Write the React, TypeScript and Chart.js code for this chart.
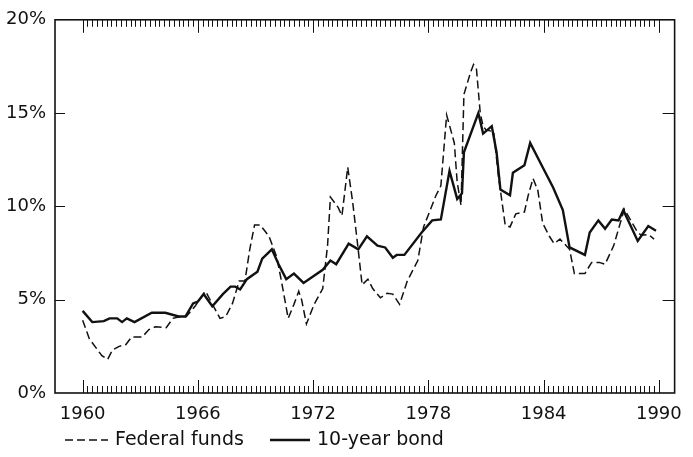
import React, { useEffect, useRef } from "react";
import { Chart, registerables } from "chart.js";

Chart.register(...registerables);

// Federal funds rate (dashed), percent
const fedYears = [
  1960.0, 1960.35, 1961.0, 1961.3, 1961.55, 1961.9, 1962.25, 1962.55, 1963.1, 1963.45,
  1963.8, 1964.35, 1964.7, 1965.1, 1965.4, 1965.85, 1966.4, 1967.15, 1967.45, 1967.8,
  1968.15, 1968.45, 1968.7, 1968.95, 1969.25, 1969.7, 1970.1, 1970.35, 1970.7, 1971.0,
  1971.25, 1971.4, 1971.65, 1972.05, 1972.5, 1972.75, 1972.9, 1973.3, 1973.5, 1973.8,
  1974.05, 1974.3, 1974.55, 1974.85, 1975.1, 1975.5, 1975.85, 1976.15, 1976.5, 1976.9,
  1977.45, 1977.75, 1978.4, 1978.65, 1978.95, 1979.35, 1979.5, 1979.7, 1979.85, 1980.2,
  1980.35, 1980.5, 1980.7, 1980.85, 1981.0, 1981.4, 1981.65, 1982.0, 1982.25, 1982.55,
  1983.0, 1983.2, 1983.45, 1983.7, 1983.95, 1984.3, 1984.55, 1984.85, 1985.35, 1985.6,
  1986.15, 1986.5, 1986.9, 1987.2, 1987.65, 1988.2, 1988.9, 1989.1, 1989.45, 1989.75,
];
const fedRates = [
  3.9, 2.9, 2.0, 1.8, 2.3, 2.5, 2.6, 3.0, 3.0, 3.4,
  3.55, 3.5, 4.0, 4.1, 4.1, 4.65, 5.45, 4.0, 4.1, 4.8,
  6.0, 6.0, 7.7, 9.0, 9.0, 8.4, 7.3, 6.0, 4.0, 4.75,
  5.45, 5.0, 3.7, 4.75, 5.6, 7.9, 10.5, 9.95, 9.5, 12.1,
  10.3, 8.1, 5.8, 6.1, 5.6, 5.1, 5.35, 5.3, 4.75, 6.0,
  7.1, 8.9, 10.6, 11.1, 14.9, 13.4, 11.3, 10.05, 16.0, 17.2,
  17.6, 17.4, 15.0, 14.3, 14.1, 14.0, 11.6, 9.0, 8.9, 9.6,
  9.7, 10.6, 11.5, 10.85, 9.1, 8.4, 8.0, 8.25, 7.7, 6.4,
  6.4, 7.0, 7.0, 6.9, 7.9, 9.85, 8.6, 8.45, 8.5, 8.25,
];

// 10-year bond yield (solid), percent
const bondYears = [
  1960.0, 1960.5, 1961.1, 1961.4, 1961.8, 1962.05, 1962.3, 1962.7, 1963.6, 1964.3,
  1965.0, 1965.35, 1965.75, 1966.0, 1966.3, 1966.75, 1967.3, 1967.7, 1967.95, 1968.2,
  1968.55, 1969.1, 1969.35, 1969.85, 1970.2, 1970.6, 1971.0, 1971.5, 1972.5, 1972.9,
  1973.2, 1973.85, 1974.35, 1974.8, 1975.35, 1975.75, 1976.15, 1976.35, 1976.75, 1977.65,
  1978.2, 1978.65, 1979.1, 1979.5, 1979.75, 1979.85, 1980.6, 1980.85, 1981.3, 1981.55,
  1981.75, 1982.25, 1982.4, 1983.0, 1983.3, 1983.95, 1984.5, 1985.0, 1985.35, 1986.15,
  1986.4, 1986.85, 1987.2, 1987.55, 1987.9, 1988.15, 1988.9, 1989.45, 1989.85,
];
const bondYields = [
  4.4, 3.8, 3.85, 4.0, 4.0, 3.8, 4.0, 3.8, 4.3, 4.3,
  4.1, 4.1, 4.8, 4.9, 5.3, 4.65, 5.3, 5.7, 5.7, 5.55,
  6.1, 6.5, 7.2, 7.7, 6.9, 6.1, 6.4, 5.9, 6.6, 7.1,
  6.9, 8.0, 7.7, 8.4, 7.9, 7.8, 7.25, 7.4, 7.4, 8.6,
  9.25, 9.3, 11.9, 10.4, 10.7, 12.9, 15.0, 13.9, 14.3, 12.9,
  10.9, 10.6, 11.8, 12.2, 13.4, 12.1, 11.0, 9.8, 7.8, 7.4,
  8.6, 9.25, 8.8, 9.3, 9.25, 9.8, 8.15, 8.95, 8.7,
];

const xLabelYears = [1960, 1966, 1972, 1978, 1984, 1990];
const yTickValues = [0, 5, 10, 15, 20];
const legendLabels = ["Federal funds", "10-year bond"];

const FONT = "'DejaVu Sans', sans-serif";

const framePlugin = {
  id: "frame",
  afterDraw(chart: any) {
    const { ctx, chartArea, scales } = chart;
    const { left, right, top, bottom } = chartArea;
    const xs = scales.x;
    const ys = scales.y;
    ctx.save();
    ctx.strokeStyle = "#111";
    ctx.lineWidth = 1.6;
    ctx.setLineDash([]);
    ctx.strokeRect(left, top, right - left, bottom - top);
    // inward quarterly ticks on top and bottom
    ctx.lineWidth = 1;
    for (let q = 0; q <= 30 * 4; q++) {
      const t = 1960 + q / 4;
      const px = Math.round(xs.getPixelForValue(t)) + 0.5;
      let len = 7;
      if (q % 24 === 0) len = 13;
      ctx.beginPath();
      ctx.moveTo(px, bottom);
      ctx.lineTo(px, bottom - len);
      ctx.moveTo(px, top);
      ctx.lineTo(px, top + len);
      ctx.stroke();
    }
    // inward ticks on left and right for 5, 10, 15
    ctx.lineWidth = 1.2;
    [5, 10, 15].forEach((v) => {
      const py = Math.round(ys.getPixelForValue(v)) + 0.5;
      ctx.beginPath();
      ctx.moveTo(left, py);
      ctx.lineTo(left + 10, py);
      ctx.moveTo(right, py);
      ctx.lineTo(right - 12, py);
      ctx.stroke();
    });
    // legend
    const ly = 440;
    ctx.lineWidth = 1.5;
    ctx.setLineDash([8, 4]);
    ctx.beginPath();
    ctx.moveTo(65, ly);
    ctx.lineTo(108, ly);
    ctx.stroke();
    ctx.setLineDash([]);
    ctx.lineWidth = 2.4;
    ctx.beginPath();
    ctx.moveTo(270, ly);
    ctx.lineTo(310, ly);
    ctx.stroke();
    ctx.fillStyle = "#111";
    ctx.font = `19px ${FONT}`;
    ctx.textBaseline = "middle";
    ctx.textAlign = "left";
    ctx.fillText(legendLabels[0], 115, ly);
    ctx.fillText(legendLabels[1], 317, ly);
    ctx.restore();
  },
};

export default function App() {
  const ref = useRef<HTMLCanvasElement | null>(null);
  useEffect(() => {
    document.body.style.margin = "0";
    const canvas = ref.current;
    if (!canvas) return;
    const chart = new Chart(canvas, {
      type: "line",
      data: {
        datasets: [
          {
            label: legendLabels[0],
            data: fedYears.map((x, i) => ({ x, y: fedRates[i] })),
            borderColor: "#111",
            borderWidth: 1.5,
            borderDash: [8, 4],
            pointRadius: 0,
            tension: 0,
            fill: false,
          },
          {
            label: legendLabels[1],
            data: bondYears.map((x, i) => ({ x, y: bondYields[i] })),
            borderColor: "#111",
            borderWidth: 2.4,
            pointRadius: 0,
            tension: 0,
            fill: false,
          },
        ],
      },
      options: {
        animation: false,
        responsive: false,
        devicePixelRatio: 1,
        layout: { padding: { left: 0, top: 15, right: 9, bottom: 0 } },
        plugins: { legend: { display: false }, tooltip: { enabled: false } },
        scales: {
          x: {
            type: "linear",
            min: 1958.56,
            max: 1990.82,
            afterBuildTicks: (s: any) => {
              s.ticks = xLabelYears.map((v) => ({ value: v }));
            },
            afterFit: (s: any) => {
              s.height = 64;
            },
            grid: { display: false, drawTicks: false },
            border: { display: false },
            ticks: {
              padding: 11,
              color: "#111",
              font: { family: FONT, size: 18 },
              callback: (v: any) => String(v),
              maxRotation: 0,
              autoSkip: false,
            },
          },
          y: {
            min: 0,
            max: 20,
            afterBuildTicks: (s: any) => {
              s.ticks = yTickValues.map((v) => ({ value: v }));
            },
            afterFit: (s: any) => {
              s.width = 55;
            },
            grid: { display: false, drawTicks: false },
            border: { display: false },
            ticks: {
              padding: 9,
              color: "#111",
              font: { family: FONT, size: 18 },
              callback: (v: any) => `${v}%`,
            },
          },
        },
      },
      plugins: [framePlugin],
    });
    return () => chart.destroy();
  }, []);
  return <canvas ref={ref} width={693} height={457} style={{ display: "block" }} />;
}
